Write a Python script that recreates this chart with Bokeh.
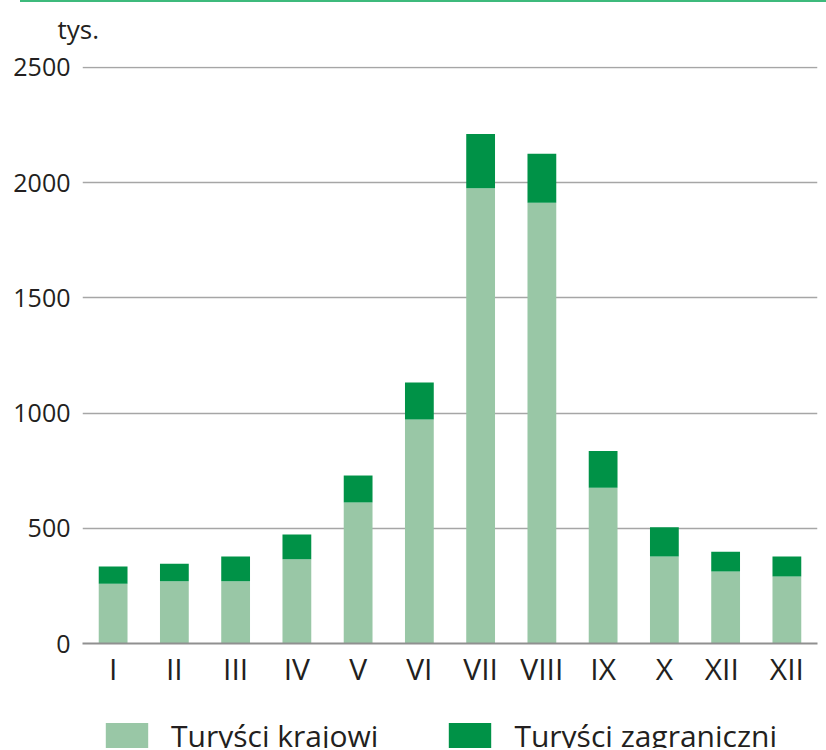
from bokeh.plotting import figure
from bokeh.models import FactorRange, Legend, LegendItem, ColumnDataSource, Div, Range1d
from bokeh.layouts import column
from bokeh.embed import file_html
from bokeh.resources import INLINE

# unique factor keys; the 11th label reads "XII" in the original
months = ["I", "II", "III", "IV", "V", "VI", "VII", "VIII", "IX", "X", "XII ", "XII"]
domestic = [259, 270, 270, 366, 612, 972, 1976, 1913, 676, 378, 312, 291]
foreign = [75, 76, 108, 107, 117, 161, 235, 212, 159, 127, 86, 87]
y_ticks = [0, 500, 1000, 1500, 2000, 2500]
series_names = ["Turyści krajowi", "Turyści zagraniczni"]
unit_label = "tys."

FONT = "Open Sans"
TXT = "#231f20"
LIGHT = "#99c7a6"
DARK = "#009247"

src = ColumnDataSource(dict(m=months, dom=domestic, forn=foreign))

# header strip holding the unit label
p3 = figure(width=818, height=38, output_backend="svg", toolbar_location=None,
            x_axis_type=None, y_axis_type=None, min_border=0, min_border_left=82,
            title=unit_label)
p3.outline_line_color = None
p3.grid.visible = False
p3.title.text_font = FONT
p3.title.text_font_size = "26px"
p3.title.text_font_style = "normal"
p3.title.text_color = TXT
p3.title.align = "left"
p3.title.vertical_align = "top"
p3.title.offset = -25
p3.title.standoff = 0

p = figure(x_range=FactorRange(*months, range_padding=0), y_range=(0, 2504),
           frame_width=735, frame_height=577, output_backend="svg", toolbar_location=None,
           min_border_left=82, min_border_right=9, min_border_top=18, min_border_bottom=55)

p.vbar_stack(["dom", "forn"], x="m", width=0.47, source=src,
             color=[LIGHT, DARK], line_color=None)

p.outline_line_color = None
p.xgrid.grid_line_color = None
p.ygrid.grid_line_color = "#a6a6a6"
p.ygrid.grid_line_width = 1.6
p.ygrid.ticker = y_ticks

p.yaxis.ticker = y_ticks
p.yaxis.axis_line_color = None
p.yaxis.major_tick_line_color = None
p.yaxis.minor_tick_line_color = None
p.yaxis.major_tick_out = 0
p.yaxis.major_label_text_font = FONT
p.yaxis.major_label_text_font_size = "25px"
p.yaxis.major_label_text_color = TXT
p.yaxis.major_label_standoff = 12

p.xaxis.axis_line_color = "#909090"
p.xaxis.axis_line_width = 2
p.xaxis.major_tick_line_color = None
p.xaxis.minor_tick_line_color = None
p.xaxis.major_label_text_font = FONT
p.xaxis.major_label_text_font_size = "30px"
p.xaxis.major_label_text_color = TXT
p.xaxis.major_label_standoff = -2

# legend strip below the chart: same series as hidden renderers,
# so only their legend swatches show
p2 = figure(x_range=FactorRange(*months, range_padding=0), y_range=Range1d(0, 2504),
            width=818, height=50, output_backend="svg", toolbar_location=None,
            x_axis_type=None, y_axis_type=None, min_border=0)
p2.outline_line_color = None
g = p2.vbar_stack(["dom", "forn"], x="m", width=0.47, source=src,
                  color=[LIGHT, DARK], line_color=None)
for rr in g:
    rr.visible = False
legend = Legend(items=[LegendItem(label=series_names[0], renderers=[g[0]]),
                       LegendItem(label=series_names[1], renderers=[g[1]])],
                location=(18, -8), orientation="horizontal",
                glyph_width=53, glyph_height=34, label_height=34,
                label_standoff=18, spacing=65, padding=0, margin=0,
                label_text_font=FONT, label_text_font_size="30px",
                label_text_color=TXT, border_line_color=None,
                background_fill_alpha=0, inactive_fill_alpha=0)
p2.add_layout(legend, "center")

topline = Div(text="", width=806, height=2, margin=(0, 0, 8, 20),
              styles={"background-color": "#3dba7c"})

layout = column(topline, p3, p, p2, spacing=0)
open("out.html", "w").write(file_html(layout, INLINE))
